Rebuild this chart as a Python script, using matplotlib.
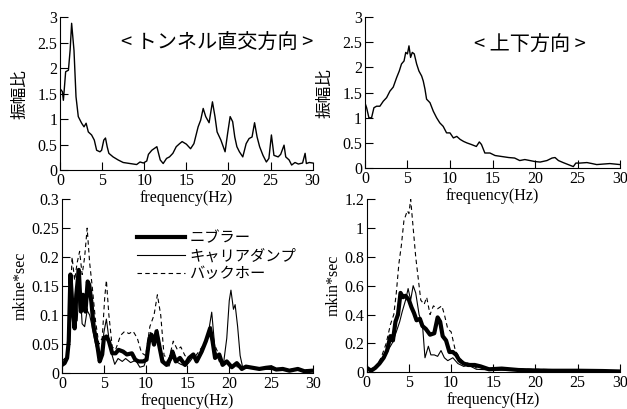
import numpy as np
import matplotlib
matplotlib.use("Agg")
from matplotlib import pyplot as plt
from matplotlib.ticker import FuncFormatter

plt.rcParams['font.family'] = ['Liberation Serif', 'Noto Sans CJK JP']
JP = ['Noto Sans CJK JP', 'DejaVu Sans']

# --- amplitude ratio, tunnel-perpendicular direction
ratioXFreq = [0, 0.28, 0.4, 0.5, 0.67, 1.0, 1.2, 1.38, 1.66, 1.9, 2.17, 2.57, 2.85, 3.1, 3.36, 3.75,
              4.07, 4.35, 4.74, 4.94, 5.2, 5.4, 5.6, 5.8, 6.3, 6.9, 7.5, 8.3, 9.1, 9.5, 9.9, 10.3,
              10.5, 10.9, 11.5, 11.7, 11.9, 12.25, 12.65, 13.0, 13.4, 13.8, 14.2, 14.5, 15.0, 15.5,
              15.9, 16.4, 16.7, 17.0, 17.3, 17.7, 18.1, 18.4, 18.65, 19.1, 19.6, 19.9, 20.2, 20.5,
              20.75, 21.0, 21.3, 21.7, 22.1, 22.45, 22.8, 23.1, 23.4, 23.7, 24.1, 24.5, 24.8, 25.1,
              25.4, 25.9, 26.2, 26.6, 26.8, 27.2, 27.5, 27.9, 28.3, 28.8, 29.1, 29.25, 29.6, 30]
ratioX = [1.6, 1.54, 1.37, 1.57, 1.93, 1.96, 2.35, 2.88, 2.35, 1.44, 1.05, 0.92, 0.85, 0.92, 0.75, 0.69,
          0.59, 0.39, 0.36, 0.39, 0.59, 0.63, 0.46, 0.33, 0.26, 0.2, 0.15, 0.13, 0.11, 0.16, 0.14, 0.18,
          0.31, 0.39, 0.46, 0.33, 0.2, 0.13, 0.23, 0.26, 0.33, 0.46, 0.52, 0.56, 0.51, 0.42,
          0.52, 0.85, 0.98, 1.21, 1.05, 0.93, 1.34, 1.05, 0.75, 0.59, 0.36, 0.72, 1.05, 0.95,
          0.65, 0.46, 0.36, 0.26, 0.52, 0.62, 0.65, 0.93, 0.65, 0.46, 0.29, 0.16, 0.23, 0.69,
          0.29, 0.26, 0.31, 0.49, 0.26, 0.2, 0.1, 0.15, 0.12, 0.14, 0.33, 0.13, 0.15, 0.14]

# --- amplitude ratio, vertical direction
ratioZFreq = [0, 0.2, 0.47, 0.78, 1.06, 1.37, 1.76, 2.16, 2.55, 2.94, 3.33, 3.73, 4.04, 4.3, 4.6, 4.8,
              5.0, 5.18, 5.37, 5.57, 5.8, 6.08, 6.35, 6.67, 6.86, 7.06, 7.25, 7.65, 8.04, 8.43, 8.8,
              9.2, 9.6, 10.0, 10.4, 10.8, 11.2, 11.6, 12.0, 12.5, 13.1, 13.45, 13.7, 14.1, 14.7,
              15.3, 16.1, 16.9, 17.6, 18.2, 18.8, 19.4, 20.0, 20.6, 21.4, 22.0, 22.35, 22.75, 23.3,
              23.9, 24.5, 24.8, 25.3, 26.1, 26.7, 27.25, 28.0, 28.8, 29.4, 30]
ratioZ = [1.3, 1.2, 1.0, 1.0, 1.2, 1.23, 1.23, 1.33, 1.4, 1.53, 1.61, 1.8, 1.93, 2.07, 2.13, 2.3,
          2.27, 2.43, 2.2, 2.3, 2.27, 2.07, 1.93, 1.83, 1.73, 1.57, 1.37, 1.3, 1.13, 1.0, 0.9,
          0.83, 0.7, 0.7, 0.6, 0.63, 0.57, 0.53, 0.5, 0.47, 0.43, 0.52, 0.47, 0.3, 0.3,
          0.25, 0.23, 0.21, 0.2, 0.15, 0.17, 0.15, 0.13, 0.12, 0.15, 0.2, 0.21, 0.15, 0.11,
          0.07, 0.03, 0.1, 0.1, 0.11, 0.09, 0.07, 0.08, 0.09, 0.08, 0.07]

# --- mkine*sec, tunnel-perpendicular direction
nibFreqX = [0, 0.3, 0.6, 0.8, 1.0, 1.2, 1.5, 1.7, 2.0, 2.25, 2.5, 2.8, 3.06, 3.25, 3.5, 3.8, 4.2, 4.5,
            4.8, 5.0, 5.3, 5.6, 6.0, 6.4, 6.75, 7.3, 7.75, 8.35, 8.75, 9.15, 9.7, 10.1, 10.45, 10.7,
            11.0, 11.3, 11.6, 12.0, 12.5, 13.0, 13.2, 13.6, 14.1, 14.7, 15.2, 15.7, 16.1, 16.7, 17.2,
            17.7, 18.0, 18.3, 18.8, 19.2, 19.7, 20.3, 20.9, 21.5, 22.0, 22.8, 23.6, 24.4, 25.0, 25.6,
            26.4, 27.2, 28.2, 29.0, 30]
nibX = [0.014, 0.017, 0.026, 0.055, 0.17, 0.123, 0.077, 0.135, 0.178, 0.106, 0.135, 0.106, 0.158, 0.152,
        0.123, 0.077, 0.049, 0.02, 0.032, 0.06, 0.063, 0.055, 0.034, 0.034, 0.04, 0.037, 0.032, 0.034,
        0.023, 0.02, 0.02, 0.023, 0.06, 0.066, 0.049, 0.072, 0.049, 0.02, 0.014, 0.026, 0.037, 0.02,
        0.026, 0.014, 0.026, 0.032, 0.02, 0.037, 0.055, 0.077, 0.055, 0.026, 0.032, 0.014, 0.02, 0.01,
        0.017, 0.007, 0.011, 0.009, 0.007, 0.009, 0.01, 0.006, 0.007, 0.004, 0.007, 0.003, 0.004]

dumpFreqX = [0, 0.5, 0.8, 1.0, 1.3, 1.5, 1.8, 2.1, 2.4, 2.7, 3.0, 3.3, 3.6, 4.0, 4.4, 4.7, 5.0, 5.3,
             5.6, 6.0, 6.3, 6.7, 7.2, 7.6, 8.2, 8.8, 9.3, 9.8, 10.2, 10.6, 11.0, 11.4, 11.8, 12.3,
             12.8, 13.2, 13.6, 14.2, 14.8, 15.3, 15.8, 16.3, 16.8, 17.4, 17.9, 18.3, 18.8, 19.3, 19.7,
             20.0, 20.2, 20.5, 20.7, 21.0, 21.3, 21.6, 22.5, 24, 26, 28, 30]
dumpX = [0.015, 0.02, 0.06, 0.16, 0.1, 0.12, 0.09, 0.16, 0.085, 0.08, 0.108, 0.1, 0.08, 0.05, 0.03,
         0.025, 0.07, 0.093, 0.06, 0.03, 0.015, 0.025, 0.02, 0.025, 0.018, 0.022, 0.01, 0.012, 0.03,
         0.07, 0.05, 0.075, 0.04, 0.015, 0.012, 0.03, 0.02, 0.015, 0.012, 0.02, 0.03, 0.025, 0.04,
         0.06, 0.105, 0.04, 0.02, 0.015, 0.06, 0.125, 0.143, 0.11, 0.118, 0.08, 0.03, 0.01, 0.008,
         0.007, 0.005, 0.005, 0.004]

hoeFreqX = [0, 0.6, 0.9, 1.2, 1.5, 1.8, 2.1, 2.4, 2.7, 3.0, 3.3, 3.6, 4.0, 4.4, 4.8, 5.1, 5.3, 5.6,
            6.0, 6.4, 7.0, 7.5, 8.0, 8.5, 9.0, 9.5, 10.0, 10.5, 11.0, 11.4, 11.8, 12.2, 12.8, 13.3,
            13.8, 14.2, 14.7, 15.2, 16.0, 17.0, 17.8, 18.2, 18.8, 19.5, 20.5, 22, 25, 30]
hoeX = [0.02, 0.03, 0.1, 0.2, 0.16, 0.19, 0.21, 0.17, 0.2, 0.25, 0.19, 0.15, 0.09, 0.05, 0.06, 0.13,
        0.16, 0.1, 0.045, 0.04, 0.065, 0.072, 0.068, 0.072, 0.06, 0.035, 0.03, 0.08, 0.1, 0.135, 0.1,
        0.03, 0.025, 0.055, 0.04, 0.045, 0.03, 0.025, 0.03, 0.05, 0.08, 0.05, 0.03, 0.015, 0.012,
        0.008, 0.008, 0.005]

# --- mkin*sec, vertical direction
nibFreqZ = [0, 0.5, 1.0, 1.5, 2.0, 2.4, 2.8, 3.1, 3.4, 3.7, 4.0, 4.3, 4.6, 5.0, 5.3, 5.6, 5.9, 6.3, 6.6,
            7.0, 7.5, 8.0, 8.4, 8.7, 9.0, 9.4, 9.8, 10.2, 10.6, 11.0, 11.5, 12.0, 12.8, 13.5, 14.5,
            16, 18, 20, 22, 25, 28, 30]
nibZ = [0.03, 0.01, 0.03, 0.06, 0.1, 0.15, 0.25, 0.22, 0.35, 0.4, 0.55, 0.52, 0.53, 0.5, 0.45, 0.41,
        0.36, 0.37, 0.32, 0.3, 0.26, 0.27, 0.38, 0.35, 0.25, 0.22, 0.14, 0.14, 0.12, 0.08, 0.06, 0.05,
        0.05, 0.04, 0.02, 0.025, 0.015, 0.012, 0.01, 0.01, 0.008, 0.005]

dumpFreqZ = [0, 1, 1.5, 2.0, 2.5, 3.0, 3.5, 3.9, 4.2, 4.6, 4.9, 5.2, 5.5, 5.8, 6.2, 6.6, 6.9, 7.3, 7.6,
             8.0, 8.4, 8.8, 9.2, 9.6, 10.2, 10.8, 11.5, 12, 13, 15, 20, 30]
dumpZ = [0.02, 0.03, 0.05, 0.1, 0.15, 0.2, 0.28, 0.35, 0.42, 0.5, 0.58, 0.5, 0.6, 0.55, 0.4, 0.33,
         0.1, 0.18, 0.12, 0.12, 0.11, 0.15, 0.1, 0.08, 0.1, 0.06, 0.04, 0.05, 0.02, 0.015, 0.01, 0.005]

hoeFreqZ = [0, 1, 1.7, 2.3, 2.8, 3.2, 3.5, 3.8, 4.1, 4.4, 4.8, 5.0, 5.2, 5.5, 5.8, 6.1, 6.4, 6.8, 7.1,
            7.5, 7.9, 8.4, 8.9, 9.2, 9.6, 10.0, 10.5, 11.0, 11.5, 12.2, 13, 14, 16, 20, 30]
hoeZ = [0.02, 0.03, 0.1, 0.2, 0.33, 0.4, 0.55, 0.75, 0.88, 1.05, 1.12, 1.1, 1.2, 1.0, 0.8, 0.65, 0.5,
        0.47, 0.52, 0.4, 0.46, 0.44, 0.46, 0.4, 0.3, 0.28, 0.15, 0.1, 0.07, 0.06, 0.03, 0.03, 0.02,
        0.02, 0.01]

legendLabels = ['ニブラー', 'キャリアダンプ', 'バックホー']
xTicks = [0, 5, 10, 15, 20, 25, 30]


def styleAxis(axis, ymax, ystep, ylabel, ylabelFamily, ylabelSize, ylabelPad):
    axis.set_xlim(0, 30)
    axis.set_ylim(0, ymax)
    axis.set_xticks(xTicks)
    axis.set_yticks(np.arange(0, ymax + ystep / 2, ystep))
    axis.yaxis.set_major_formatter(FuncFormatter(lambda v, p: '{:g}'.format(round(v, 3))))
    axis.spines['top'].set_visible(False)
    axis.spines['right'].set_visible(False)
    axis.patch.set_alpha(0)  # keep the upper x-label visible over the lower axes
    axis.tick_params(direction='in', length=6, width=0.8, labelsize=11.5, pad=2)
    axis.set_xlabel('frequency(Hz)', fontsize=11.5, labelpad=1)
    axis.set_ylabel(ylabel, fontsize=ylabelSize, family=ylabelFamily, labelpad=ylabelPad)


fig = plt.figure(figsize=(6.27, 4.09), dpi=100)

axTL = fig.add_axes([0.0957, 0.584, 0.403, 0.374])
axTR = fig.add_axes([0.582, 0.589, 0.407, 0.369])
axBL = fig.add_axes([0.099, 0.088, 0.4, 0.425])
axBR = fig.add_axes([0.585, 0.09, 0.4035, 0.423])

# Top row: amplitude ratio
axTL.plot(ratioXFreq, ratioX, color='black', lw=1.0)
axTR.plot(ratioZFreq, ratioZ, color='black', lw=1.0)
styleAxis(axTL, 3, 0.5, '振幅比', JP, 12, 6)
styleAxis(axTR, 3, 0.5, '振幅比', JP, 12, 6)
axTL.text(0.62, 0.83, '< トンネル直交方向 >', transform=axTL.transAxes, ha='center', va='center',
          fontsize=14.5, family=JP, clip_on=False)
axTR.text(0.647, 0.815, '< 上下方向 >', transform=axTR.transAxes, ha='center', va='center',
          fontsize=14.5, family=JP)

# Bottom row: vibration level
axBL.plot(nibFreqX, nibX, color='black', lw=3.0, label=legendLabels[0])
axBL.plot(dumpFreqX, dumpX, color='black', lw=0.8, label=legendLabels[1])
axBL.plot(hoeFreqX, hoeX, color='black', lw=0.8, dashes=(4, 3), label=legendLabels[2])
styleAxis(axBL, 0.3, 0.05, 'mkine*sec', None, 11.5, 2)

axBR.plot(nibFreqZ, nibZ, color='black', lw=3.0)
axBR.plot(dumpFreqZ, dumpZ, color='black', lw=0.8)
axBR.plot(hoeFreqZ, hoeZ, color='black', lw=0.8, dashes=(4, 3))
styleAxis(axBR, 1.2, 0.2, 'mkin*sec', None, 11.5, 2)

axBL.legend(loc='upper left', bbox_to_anchor=(0.27, 0.87), frameon=False,
            prop={'family': JP, 'size': 11}, handlelength=3.1, handletextpad=0.3,
            labelspacing=0.05, borderpad=0)

fig.savefig('out.png', dpi=100)
